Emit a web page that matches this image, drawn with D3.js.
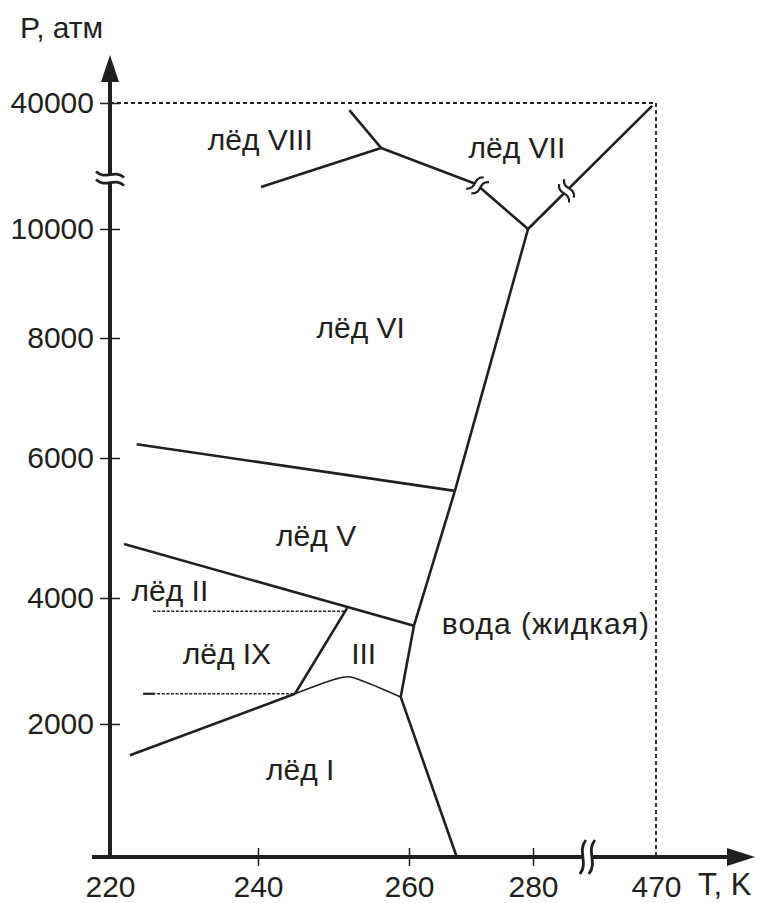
<!DOCTYPE html>
<html>
<head>
<meta charset="utf-8">
<script src="https://cdn.jsdelivr.net/npm/d3@7"></script>
<style>
    body { margin: 0; background: #fff; }
    .pd-svg text { font-family: 'Liberation Sans', Arial, sans-serif; fill: #231f20; }
</style>
</head>
<body>
<svg class="pd-svg"></svg>
<script>

// axis values (the axis is broken: 280 -> 470 K and 10000 -> 40000 atm)
const tempTicks = [ 220, 240, 260, 280, 470 ]
const tempMarked = [ 240, 260, 280 ]
const pressTicks = [ 0, 2000, 4000, 6000, 8000, 10000, 40000 ]
const pressLabelled = [ 2000, 4000, 6000, 8000, 10000, 40000 ]

// phase boundaries, [T (K), P (atm)]
const meltIceI = [ [ 267.7, 0 ], [ 258.9, 2430 ] ]
const meltIceIII = [ [ 258.9, 2430 ], [ 260.8, 3560 ] ]
const meltIceV = [ [ 260.8, 3560 ], [ 267.4, 5530 ] ]
const meltIceVI = [ [ 267.4, 5530 ], [ 279.2, 10000 ] ]
const meltIceVII = [ [ 279.2, 10000 ], [ 464, 39300 ] ]
const iceVI_VII = [ [ 279.2, 10000 ], [ 270.8, 20700 ], [ 256.3, 29300 ] ]
const iceVII_VIII = [ [ 256.3, 29300 ], [ 252.1, 38300 ] ]
const iceVI_VIII = [ [ 256.3, 29300 ], [ 240.4, 20000 ] ]
const iceV_VI = [ [ 267.4, 5530 ], [ 223.6, 6230 ] ]
const iceII_V = [ [ 221.9, 4770 ], [ 260.8, 3560 ] ]
const iceII_III = [ [ 251.8, 3840 ], [ 244.9, 2480 ] ]
const iceI_II = [ [ 222.7, 1530 ], [ 244.9, 2480 ] ]
const iceI_III = [ [ 244.9, 2480 ], [ 250.2, 2710 ], [ 251.9, 2750 ], [ 253.5, 2700 ], [ 258.9, 2430 ] ]
const iceII_IX = [ [ 225.8, 3790 ], [ 251.5, 3790 ] ]
const iceIX_I = [ [ 224.5, 2480 ], [ 244.9, 2480 ] ]

// where the two upper lines are cut (line, segment, fraction along it)
const lineCuts = [
    { line: meltIceVII, seg: 0, at: 0.31 },
    { line: iceVI_VII, seg: 0, at: 0.97 }
]

const axisCutT = 364
const axisCutP = 22000

// phase names, anchored at [T, P]
const phaseLabels = [
    { text: 'лёд VIII', t: 240.3, p: 28800 },
    { text: 'лёд VII', t: 277.4, p: 26900 },
    { text: 'лёд VI', t: 253.6, p: 8000 },
    { text: 'лёд V', t: 247.7, p: 4740 },
    { text: 'лёд II', t: 228.1, p: 3950 },
    { text: 'лёд IX', t: 235.8, p: 2950 },
    { text: 'III', t: 254.0, p: 2950 },
    { text: 'лёд I', t: 245.6, p: 1160 },
    { text: 'вода (жидкая)', t: 300, p: 3430 }
]

const ink = '#231f20'

const draw = () => {

    const width = 781
    const height = 903

    const svg = d3.select('.pd-svg')
        .attr('width', width)
        .attr('height', height)

    // piecewise scales, the drawing's ticks are not evenly spaced
    const x = d3.scaleLinear()
        .domain(tempTicks)
        .range([ 110, 258, 409, 533, 656 ])

    const y = d3.scaleLinear()
        .domain(pressTicks)
        .range([ 857, 724, 598, 458, 338, 229, 103 ])

    const line = d3.line()
        .x(d => x(d[0]))
        .y(d => y(d[1]))

    // dotted frame at 470 K / 40000 atm
    svg.append('path')
        .attr('d', line([ [ 220, 40000 ], [ 470, 40000 ], [ 470, 0 ] ]))
        .attr('fill', 'none')
        .attr('stroke', ink)
        .attr('stroke-width', 1.8)
        .attr('stroke-dasharray', '4,3')

    // axes
    const x0 = x(220)
    const y0 = y(0)

    svg.append('line')
        .attr('x1', x0)
        .attr('x2', x0)
        .attr('y1', y0 + 2)
        .attr('y2', y(40000) - 24)
        .attr('stroke', ink)
        .attr('stroke-width', 4)

    svg.append('path')
        .attr('d', `M${x0},${y(40000) - 48}L${x0 + 9},${y(40000) - 21}L${x0 - 9},${y(40000) - 21}Z`)
        .attr('fill', ink)

    svg.append('line')
        .attr('x1', x0 - 18)
        .attr('x2', x(470) + 74)
        .attr('y1', y0)
        .attr('y2', y0)
        .attr('stroke', ink)
        .attr('stroke-width', 4)

    svg.append('path')
        .attr('d', `M${x(470) + 99},${y0}L${x(470) + 71},${y0 - 9}L${x(470) + 71},${y0 + 9}Z`)
        .attr('fill', ink)

    const yAxis = svg.append('g')
        .attr('transform', `translate(${x0},0)`)
        .call(d3.axisLeft(y).tickValues(pressLabelled).tickSize(10).tickPadding(6).tickFormat(d => d))

    yAxis.select('.domain').remove()
    yAxis.selectAll('.tick line')
        .attr('x1', 10)
        .attr('stroke', ink)
        .attr('stroke-width', 1.5)
    yAxis.selectAll('.tick text')
        .attr('font-size', 30)
        .attr('fill', ink)

    const xAxis = svg.append('g')
        .attr('transform', `translate(0,${y0})`)
        .call(d3.axisBottom(x).tickValues(tempTicks).tickSize(9).tickPadding(10))

    xAxis.select('.domain').remove()
    xAxis.selectAll('.tick line')
        .attr('y1', -9)
        .attr('stroke', ink)
        .attr('stroke-width', 1.5)
        .attr('display', d => tempMarked.includes(d) ? null : 'none')
    xAxis.selectAll('.tick text')
        .attr('font-size', 30)
        .attr('fill', ink)

    svg.append('text')
        .attr('x', 20)
        .attr('y', 38)
        .attr('font-size', 30)
        .text('P, атм')

    svg.append('text')
        .attr('x', x(470) + 42)
        .attr('y', y0 + 38)
        .attr('font-size', 31)
        .text('T, K')

    // phase boundaries
    const solid = [ meltIceI, meltIceIII, meltIceV, meltIceVI, meltIceVII, iceVI_VII,
        iceVII_VIII, iceVI_VIII, iceV_VI, iceII_V, iceII_III, iceI_II ]

    svg.selectAll('.pd-line')
        .data(solid)
        .enter()
        .append('path')
        .attr('class', 'pd-line')
        .attr('d', line)
        .attr('fill', 'none')
        .attr('stroke', ink)
        .attr('stroke-width', 2.6)
        .attr('stroke-linejoin', 'round')

    svg.append('path')
        .attr('d', line.curve(d3.curveCatmullRom)(iceI_III))
        .attr('fill', 'none')
        .attr('stroke', ink)
        .attr('stroke-width', 1.6)
    line.curve(d3.curveLinear)

    svg.selectAll('.pd-dash')
        .data([ iceII_IX, iceIX_I ])
        .enter()
        .append('path')
        .attr('class', 'pd-dash')
        .attr('d', line)
        .attr('fill', 'none')
        .attr('stroke', ink)
        .attr('stroke-width', 1.3)
        .attr('stroke-dasharray', '3,1.6')

    // short solid start of the IX / I line
    svg.append('line')
        .attr('x1', x(iceIX_I[0][0]))
        .attr('x2', x(iceIX_I[0][0]) + 11)
        .attr('y1', y(iceIX_I[0][1]))
        .attr('y2', y(iceIX_I[0][1]))
        .attr('stroke', ink)
        .attr('stroke-width', 2.2)

    // break marks: white gap and two wavy strokes across the line
    const cutMark = (px, py, angle, len, gap, sw) => {
        const g = svg.append('g')
            .attr('transform', `translate(${px},${py}) rotate(${angle})`)
        g.append('rect')
            .attr('x', -gap / 2)
            .attr('y', -6)
            .attr('width', gap)
            .attr('height', 12)
            .attr('fill', '#fff')
        ;[ -gap / 2, gap / 2 ].forEach(dx => {
            g.append('path')
                .attr('d', `M${dx + 3},${-len / 2}C${dx - 6},${-len / 6} ${dx + 6},${len / 6} ${dx - 3},${len / 2}`)
                .attr('fill', 'none')
                .attr('stroke', ink)
                .attr('stroke-width', sw)
        })
    }

    lineCuts.forEach(c => {
        const a = c.line[c.seg]
        const b = c.line[c.seg + 1]
        const ax = x(a[0]), ay = y(a[1]), bx = x(b[0]), by = y(b[1])
        const px = ax + (bx - ax) * c.at
        const py = ay + (by - ay) * c.at
        const angle = Math.atan2(by - ay, bx - ax) * 180 / Math.PI
        cutMark(px, py, angle, 20, 7, 2.2)
    })

    cutMark(x0, y(axisCutP), -90, 28, 8, 2.8)
    cutMark(x(axisCutT), y0, 0, 34, 9, 2.8)

    // phase names
    svg.selectAll('.pd-label')
        .data(phaseLabels)
        .enter()
        .append('text')
        .attr('class', 'pd-label')
        .attr('x', d => x(d.t))
        .attr('y', d => y(d.p))
        .attr('text-anchor', 'middle')
        .attr('font-size', 30)
        .attr('letter-spacing', d => d.text.length > 10 ? 1 : 0)
        .text(d => d.text)

}

draw()
</script>
</body>
</html>
